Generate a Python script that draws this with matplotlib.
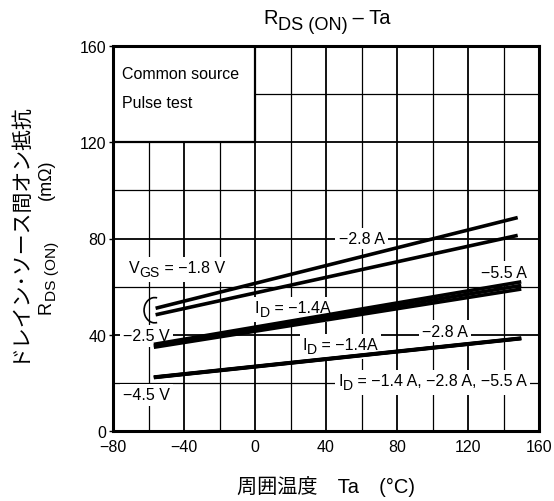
import matplotlib
matplotlib.use("Agg")
import matplotlib.pyplot as plt
from matplotlib.patches import Rectangle, Arc
from matplotlib.transforms import offset_copy, IdentityTransform

plt.rcParams["font.family"] = ["Liberation Sans", "Noto Sans CJK JP"]
plt.rcParams["axes.unicode_minus"] = True

# ambient temperature endpoints (°C)
ta_18 = [-56, 148]
ta_25 = [-57, 150]
ta_45 = [-57, 150]

# RDS(ON) in mOhm
vgs18_id28 = [51.0, 88.7]
vgs18_id14 = [48.3, 81.3]
vgs25_id55 = [36.0, 62.0]
vgs25_id28 = [35.4, 60.5]
vgs25_id14 = [34.8, 59.0]
vgs45_id55 = [22.4, 38.6]
vgs45_id28 = [22.3, 38.5]
vgs45_id14 = [22.2, 38.4]

x_ticks = [-80, -40, 0, 40, 80, 120, 160]
y_ticks = [0, 40, 80, 120, 160]

DPI = 100
fig = plt.figure(figsize=(5.54, 5.02), dpi=DPI)
ax = fig.add_axes([113 / 554, 1 - 432 / 502, 426 / 554, 385 / 502])
renderer = fig.canvas.get_renderer()


def text_width(target, s, size, transform):
    # measure with bars around so leading/trailing spaces count
    t1 = target.text(0, 0, "|" + s + "|", fontsize=size, transform=transform)
    t2 = target.text(0, 0, "||", fontsize=size, transform=transform)
    w = t1.get_window_extent(renderer).width - t2.get_window_extent(renderer).width
    t1.remove()
    t2.remove()
    return w


def rich(target, x, y, parts, size, transform, rotation=0, ha="center",
         sub_scale=0.88, drop=0.28, box=False, z=3):
    """parts: list of (string, is_sub) or a number = gap in pixels"""
    px = size * DPI / 72
    items = []
    for p in parts:
        if isinstance(p, (int, float)):
            items.append((None, False, size, p))
        else:
            s, sub = p
            fs = size * sub_scale if sub else size
            items.append((s, sub, fs, text_width(target, s, fs, transform)))
    total = sum(it[3] for it in items)
    pos = -total / 2 if ha == "center" else 0
    cap = 0.36 * px
    made = []
    for s, sub, fs, w in items:
        if s is not None:
            d = drop * px if sub else 0
            if rotation == 0:
                dx, dy = pos, -cap - d
            else:
                dx, dy = cap + d, pos
            tr = offset_copy(transform, fig=fig, x=dx, y=dy, units="dots")
            t = target.text(x, y, s, fontsize=fs, transform=tr, rotation=rotation,
                            rotation_mode="anchor", ha="left", va="baseline", zorder=z)
            made.append(t)
        pos += w
    if box:
        bbs = [t.get_window_extent(renderer) for t in made]
        x0 = min(b.x0 for b in bbs) - 3
        x1 = max(b.x1 for b in bbs) + 3
        y0 = min(b.y0 for b in bbs) - 3
        y1 = max(b.y1 for b in bbs) + 3
        target.add_patch(Rectangle((x0, y0), x1 - x0, y1 - y0, transform=IdentityTransform(),
                                   fc="white", ec="none", zorder=z - 0.5))


ax.set_xlim(-80, 160)
ax.set_ylim(0, 160)
ax.set_xticks(x_ticks)
ax.set_yticks(y_ticks)
ax.set_xticks(range(-80, 161, 20), minor=True)
ax.set_yticks(range(0, 161, 20), minor=True)
ax.set_axisbelow(True)
ax.grid(which="major", color="black", lw=1.3)
ax.grid(which="minor", color="black", lw=0.9)
ax.tick_params(which="major", labelsize=11.5, width=1)
ax.tick_params(axis="x", which="major", length=0, pad=6)
ax.tick_params(axis="y", which="major", length=3, pad=2)
ax.tick_params(which="minor", length=0)
for s in ax.spines.values():
    s.set_linewidth(2.2)

# blank box for the test conditions
ax.add_patch(Rectangle((-80, 120), 80, 40, fc="white", ec="black", lw=1.6, zorder=1))
ax.text(-75, 148.5, "Common source", fontsize=11.5, va="center", zorder=3)
ax.text(-75, 136.5, "Pulse test", fontsize=11.5, va="center", zorder=3)

lw = 2.6
for t, r in [(ta_18, vgs18_id28), (ta_18, vgs18_id14),
             (ta_25, vgs25_id55), (ta_25, vgs25_id28), (ta_25, vgs25_id14),
             (ta_45, vgs45_id55), (ta_45, vgs45_id28), (ta_45, vgs45_id14)]:
    ax.plot(t, r, color="black", lw=lw, solid_capstyle="butt", zorder=4)

ax.add_patch(Arc((-56.5, 50.2), 12, 10.5, theta1=75, theta2=285, color="black", lw=1.2, zorder=4))

fs = 11.5
box = dict(boxstyle="square,pad=0.2", fc="white", ec="none")
lab = dict(fontsize=fs, zorder=3, bbox=box, ha="center", va="center")
ax.text(60, 80, "−2.8 A", **lab)
ax.text(140, 66, "−5.5 A", **lab)
ax.text(-61, 39.5, "−2.5 V", **lab)
ax.text(107, 41.5, "−2.8 A", **lab)
ax.text(-61, 15, "−4.5 V", **lab)
rich(ax, -71, 68.5, [("V", False), ("GS", True), (" = −1.8 V", False)], fs, ax.transData,
     ha="left", box=True)
rich(ax, 0, 52, [("I", False), ("D", True), (" = −1.4A", False)], fs, ax.transData,
     ha="left", box=True)
rich(ax, 48, 36.5, [("I", False), ("D", True), (" = −1.4A", False)], fs, ax.transData,
     box=True)
rich(ax, 100, 21.5, [("I", False), ("D", True), (" = −1.4 A, −2.8 A, −5.5 A", False)], fs,
     ax.transData, box=True)

rich(fig, 327 / 554, 1 - 17 / 502, [("R", False), ("DS (ON)", True), (" – Ta", False)], 14.5,
     fig.transFigure, sub_scale=0.9)
fig.text(326 / 554, 1 - 487 / 502, "周囲温度　Ta　(°C)", ha="center", va="center", fontsize=14.5)
fig.text(18 / 554, 1 - 232 / 502, "ドレイン･ソース間オン抵抗", ha="center", va="center",
         rotation=90, fontsize=15)
rich(fig, 44 / 554, 1 - 237 / 502, [("R", False), ("DS (ON)", True), 42, ("(mΩ)", False)], 13,
     fig.transFigure, rotation=90, sub_scale=0.85)

fig.savefig("out.png", dpi=DPI)
